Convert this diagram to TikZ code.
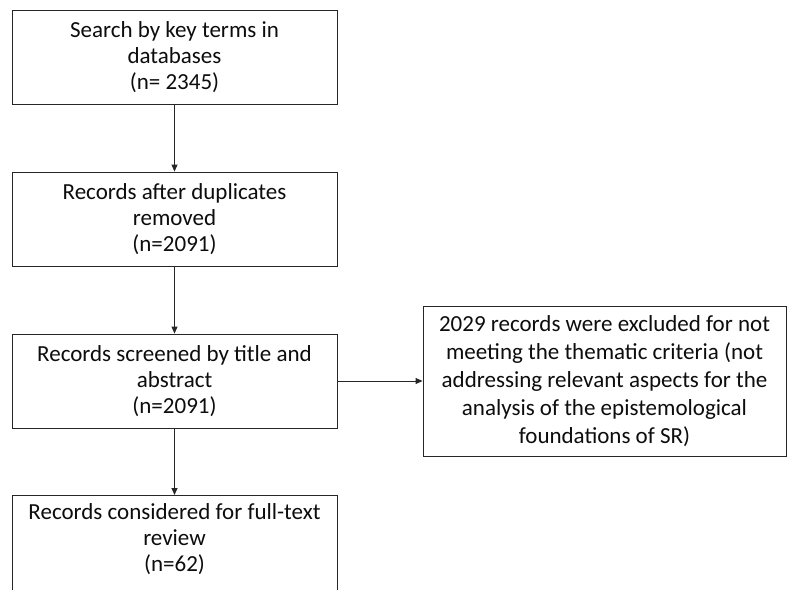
\documentclass[tikz,border=0pt]{standalone}
\usepackage{fontspec}
\setmainfont{Carlito}
\usetikzlibrary{arrows.meta}
\begin{document}
\begin{tikzpicture}[x=1pt,y=-1pt,
  box/.style={draw=black!85, line width=0.9pt, minimum width=325pt, minimum height=94pt,
    align=center, inner sep=0pt, font=\fontsize{23}{26}\selectfont, text=black!95},
  arr/.style={draw=black!85, line width=0.9pt, -{Triangle[length=7pt,width=6pt]}}]
\useasboundingbox[fill=white] (0,0) rectangle (787,589);
\node[box] (b1) at (174.5,57) {Search by key terms in\\databases\\(n= 2345)};
\node[box] (b2) at (174.5,219) {Records after duplicates\\removed\\(n=2091)};
\node[box] (b3) at (174.5,381) {Records screened by title and\\abstract\\(n=2091)};
\node[box, minimum width=363pt, minimum height=150pt, font=\fontsize{23}{28}\selectfont] (b4) at (604.5,381)
  {2029 records were excluded for not\\meeting the thematic criteria (not\\addressing relevant aspects for the\\analysis of the epistemological\\foundations of SR)};
\node[box, anchor=north, minimum height=96pt] (b5) at (174.5,495) {};
\node[font=\fontsize{23}{26}\selectfont, align=center, anchor=north, inner sep=0pt, text=black!95] (t5) at (174.5,503)
  {Records considered for full-text\\review\\(n=62)};
\draw[arr] (b1) -- (b2);
\draw[arr] (b2) -- (b3);
\draw[arr] (b3) -- (b4);
\draw[arr] (b3) -- (b5);
\end{tikzpicture}
\end{document}
